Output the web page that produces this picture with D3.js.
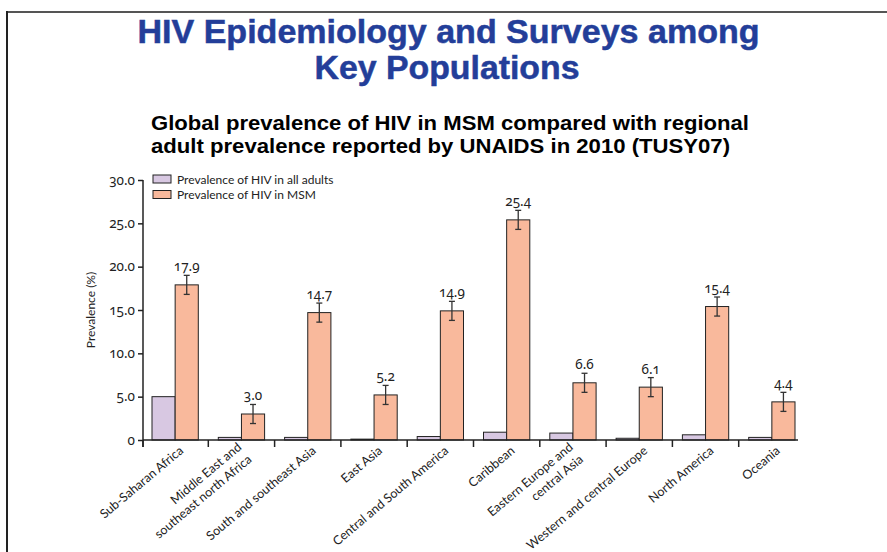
<!DOCTYPE html>
<html>
<head>
<meta charset="utf-8">
<script src="https://cdn.jsdelivr.net/npm/d3@7"></script>
<style>
body { margin: 0; background: #fff; }
svg { display: block; }
.num { font-family: "Noto Sans", sans-serif; font-variant-numeric: oldstyle-nums; }
</style>
</head>
<body>
<div id="main"></div>
<script>
var ctx = {
    w: 887,
    h: 552,
};

// data
var regions = [
    ["Sub-Saharan Africa"],
    ["Middle East and", "southeast north Africa"],
    ["South and southeast Asia"],
    ["East Asia"],
    ["Central and South America"],
    ["Caribbean"],
    ["Eastern Europe and", "central Asia"],
    ["Western and central Europe"],
    ["North America"],
    ["Oceania"]
];
var adultPrev = [5.0, 0.3, 0.3, 0.1, 0.4, 0.9, 0.8, 0.2, 0.6, 0.3];
var msmPrev = [17.9, 3.0, 14.7, 5.2, 14.9, 25.4, 6.6, 6.1, 15.4, 4.4];
var msmErr = [1.1, 1.1, 1.1, 1.1, 1.1, 1.1, 1.1, 1.1, 1.1, 1.1];
var seriesNames = ["Prevalence of HIV in all adults", "Prevalence of HIV in MSM"];
var seriesKeys = ["adult", "msm"];
var yTicks = [0, 5, 10, 15, 20, 25, 30];

var color = d3.scaleOrdinal().domain(seriesKeys).range(["#d8c8e2", "#f9b99c"]);

var createViz = function(){
    var svg = d3.select("#main").append("svg")
        .attr("width", ctx.w)
        .attr("height", ctx.h);

    // frame of the slide
    svg.append("line").attr("x1", 6).attr("x2", ctx.w).attr("y1", 12).attr("y2", 12)
        .style("stroke", "#555").style("stroke-width", 2);
    svg.append("line").attr("x1", 7).attr("x2", 7).attr("y1", 11).attr("y2", ctx.h)
        .style("stroke", "#222").style("stroke-width", 2);

    // titles
    var title = svg.append("g")
        .style("font-family", "'Liberation Sans', Arial, sans-serif")
        .style("font-weight", "bold")
        .style("fill", "#233e99")
        .style("stroke", "#233e99")
        .style("stroke-width", 0.5)
        .style("font-size", "33px")
        .attr("text-anchor", "middle");
    title.append("text").attr("x", 448.5).attr("y", 43)
        .attr("textLength", 622).attr("lengthAdjust", "spacingAndGlyphs")
        .text("HIV Epidemiology and Surveys among");
    title.append("text").attr("x", 447).attr("y", 79)
        .attr("textLength", 265).attr("lengthAdjust", "spacingAndGlyphs")
        .text("Key Populations");

    var sub = svg.append("g")
        .style("font-family", "'Liberation Sans', Arial, sans-serif")
        .style("font-weight", "bold")
        .style("fill", "#000")
        .style("font-size", "19.5px");
    sub.append("text").attr("x", 151).attr("y", 130)
        .attr("textLength", 598).attr("lengthAdjust", "spacingAndGlyphs")
        .text("Global prevalence of HIV in MSM compared with regional");
    sub.append("text").attr("x", 151).attr("y", 153)
        .attr("textLength", 579).attr("lengthAdjust", "spacingAndGlyphs")
        .text("adult prevalence reported by UNAIDS in 2010 (TUSY07)");

    // scales
    var x0 = d3.scaleBand()
        .domain(d3.range(regions.length))
        .range([142, 805]);
    var x1 = d3.scaleBand()
        .domain(seriesKeys)
        .range([10, x0.bandwidth() - 10]);
    var y = d3.scaleLinear()
        .domain([0, 30])
        .range([440, 180]);

    // y axis
    var yAxis = svg.append("g")
        .attr("transform", "translate(143,0)")
        .call(d3.axisLeft(y).tickValues(yTicks).tickSize(5).tickSizeOuter(0)
            .tickFormat(function(d){ return d === 0 ? "0" : d3.format(".1f")(d); }));
    yAxis.select(".domain").remove();
    yAxis.selectAll(".tick line").style("stroke", "#222").style("stroke-width", 1.5);
    yAxis.selectAll(".tick text")
        .attr("class", "num")
        .attr("x", -8)
        .style("font-size", "13.5px")
        .style("fill", "#222");
    svg.append("line").attr("x1", 143).attr("x2", 143).attr("y1", y(30)).attr("y2", 447)
        .style("stroke", "#222").style("stroke-width", 1.5);

    svg.append("text")
        .attr("transform", "translate(95," + y(15) + ") rotate(-90)")
        .attr("text-anchor", "middle")
        .style("font-family", "Lato, sans-serif")
        .style("font-size", "12px")
        .style("fill", "#222")
        .text("Prevalence (%)");

    // bars
    var rows = regions.map(function(r, i){
        return { i: i, adult: adultPrev[i], msm: msmPrev[i], err: msmErr[i] };
    });

    var groups = svg.append("g").selectAll("g")
        .data(rows)
        .enter()
        .append("g")
        .attr("transform", function(d){ return "translate(" + x0(d.i) + ",0)"; });

    groups.selectAll("rect")
        .data(function(d){ return seriesKeys.map(function(k){ return { key: k, value: d[k] }; }); })
        .enter()
        .append("rect")
        .attr("x", function(d){ return x1(d.key); })
        .attr("y", function(d){ return y(d.value); })
        .attr("width", x1.bandwidth())
        .attr("height", function(d){ return y(0) - y(d.value); })
        .style("fill", function(d){ return color(d.key); })
        .style("stroke", "#222")
        .style("stroke-width", 1);

    // error bars
    var cx = x1("msm") + x1.bandwidth() / 2;
    var eb = groups.append("g").style("stroke", "#333").style("stroke-width", 1.3);
    eb.append("line").attr("x1", cx).attr("x2", cx)
        .attr("y1", function(d){ return y(d.msm + d.err); })
        .attr("y2", function(d){ return y(d.msm - d.err); });
    eb.append("line").attr("x1", cx - 3).attr("x2", cx + 3)
        .attr("y1", function(d){ return y(d.msm + d.err); })
        .attr("y2", function(d){ return y(d.msm + d.err); });
    eb.append("line").attr("x1", cx - 3).attr("x2", cx + 3)
        .attr("y1", function(d){ return y(d.msm - d.err); })
        .attr("y2", function(d){ return y(d.msm - d.err); });

    groups.append("text")
        .attr("class", "num")
        .attr("x", cx)
        .attr("y", function(d){ return y(d.msm + d.err) - 4; })
        .attr("text-anchor", "middle")
        .style("font-size", "13.5px")
        .style("fill", "#222")
        .text(function(d){ return d3.format(".1f")(d.msm); });

    // x axis
    svg.append("line").attr("x1", 143).attr("x2", x0(regions.length - 1) + x1("msm") + x1.bandwidth() + 3)
        .attr("y1", y(0)).attr("y2", y(0))
        .style("stroke", "#222").style("stroke-width", 1.5);
    svg.append("g").selectAll("line")
        .data(rows)
        .enter()
        .append("line")
        .attr("x1", function(d){ return Math.max(143, x0(d.i)); })
        .attr("x2", function(d){ return Math.max(143, x0(d.i)); })
        .attr("y1", y(0))
        .attr("y2", y(0) + 7)
        .style("stroke", "#222").style("stroke-width", 1.5);

    // rotated category labels, wrapped labels centred around the anchor
    var labels = svg.append("g").selectAll("text")
        .data(rows)
        .enter()
        .append("text")
        .attr("transform", function(d){
            return "translate(" + (x0(d.i) + x0.bandwidth() / 2 + 9) + "," + 452 + ") rotate(-40)";
        })
        .attr("text-anchor", "end")
        .style("font-family", "Lato, sans-serif")
        .style("font-size", "12.5px")
        .style("fill", "#222");
    labels.selectAll("tspan")
        .data(function(d){
            var lines = regions[d.i];
            return lines.map(function(l, j){
                return { text: l, n: lines.length, off: (j - (lines.length - 1) / 2) * 16 };
            });
        })
        .enter()
        .append("tspan")
        .attr("x", function(d){ return d.n > 1 ? -4 : 0; })
        .attr("y", function(d){ return d.off; })
        .text(function(d){ return d.text; });

    // legend
    var legend = svg.append("g").selectAll("g")
        .data(seriesKeys)
        .enter()
        .append("g")
        .attr("transform", function(d, i){ return "translate(153," + (175 + i * 15.5) + ")"; });
    legend.append("rect")
        .attr("width", 18).attr("height", 8)
        .style("fill", function(d){ return color(d); })
        .style("stroke", "#222").style("stroke-width", 1);
    legend.append("text")
        .attr("x", 24).attr("y", 8.5)
        .style("font-family", "Lato, sans-serif")
        .style("font-size", "12px")
        .style("fill", "#222")
        .text(function(d, i){ return seriesNames[i]; });
};

createViz();
</script>
</body>
</html>
